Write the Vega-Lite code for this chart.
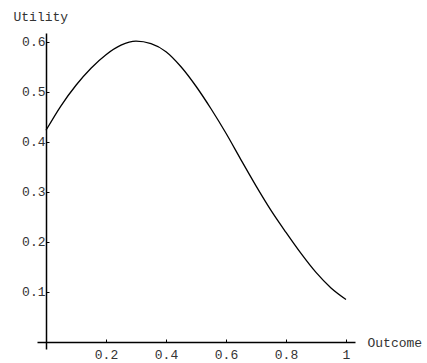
{
  "$schema": "https://vega.github.io/schema/vega-lite/v6.json",
  "width": 318,
  "height": 316,
  "autosize": "none",
  "padding": {"left": 37, "top": 33, "right": 72, "bottom": 14},
  "background": "white",
  "config": {"view": {"stroke": null}},
  "data": {"values": [
    {"x": 0.0, "y": 0.423},
    {"x": 0.05, "y": 0.472},
    {"x": 0.1, "y": 0.513},
    {"x": 0.15, "y": 0.547},
    {"x": 0.2, "y": 0.574},
    {"x": 0.25, "y": 0.593},
    {"x": 0.3, "y": 0.601},
    {"x": 0.35, "y": 0.596},
    {"x": 0.4, "y": 0.580},
    {"x": 0.45, "y": 0.550},
    {"x": 0.5, "y": 0.511},
    {"x": 0.55, "y": 0.466},
    {"x": 0.6, "y": 0.417},
    {"x": 0.65, "y": 0.364},
    {"x": 0.7, "y": 0.312},
    {"x": 0.75, "y": 0.263},
    {"x": 0.8, "y": 0.219},
    {"x": 0.85, "y": 0.177},
    {"x": 0.9, "y": 0.139},
    {"x": 0.95, "y": 0.108},
    {"x": 1.0, "y": 0.085}
  ]},
  "mark": {"type": "line", "color": "black", "strokeWidth": 1.3, "interpolate": "monotone", "clip": true},
  "encoding": {
    "x": {
      "field": "x", "type": "quantitative",
      "scale": {"domain": [-0.03, 1.03], "nice": false, "zero": false},
      "axis": {
        "values": [0.2, 0.4, 0.6, 0.8, 1],
        "labelExpr": "datum.value == 1 ? '1' : format(datum.value, '.1f')",
        "offset": -7,
        "grid": false,
        "domainColor": "black", "domainWidth": 1.5,
        "tickColor": "black", "tickSize": -3, "tickWidth": 1,
        "labelFont": "Liberation Mono", "labelFontSize": 13, "labelColor": "#333",
        "labelPadding": 9,
        "title": "Outcome",
        "titleFont": "Liberation Mono", "titleFontSize": 13, "titleFontWeight": "normal", "titleColor": "#333",
        "titleX": 330, "titleY": 0, "titleAlign": "left", "titleBaseline": "middle", "titleAnchor": null
      }
    },
    "y": {
      "field": "y", "type": "quantitative",
      "scale": {"domain": [-0.014, 0.6174], "nice": false, "zero": false},
      "axis": {
        "values": [0.1, 0.2, 0.3, 0.4, 0.5, 0.6],
        "format": ".1f",
        "offset": -9,
        "grid": false,
        "domainColor": "black", "domainWidth": 1.5,
        "tickColor": "black", "tickSize": -3, "tickWidth": 1,
        "labelFont": "Liberation Mono", "labelFontSize": 13, "labelColor": "#333",
        "labelPadding": 4,
        "title": "Utility",
        "titleFont": "Liberation Mono", "titleFontSize": 13, "titleFontWeight": "normal", "titleColor": "#333",
        "titleAngle": 0, "titleX": -33, "titleY": -17, "titleAlign": "left", "titleBaseline": "middle", "titleAnchor": null
      }
    }
  }
}
